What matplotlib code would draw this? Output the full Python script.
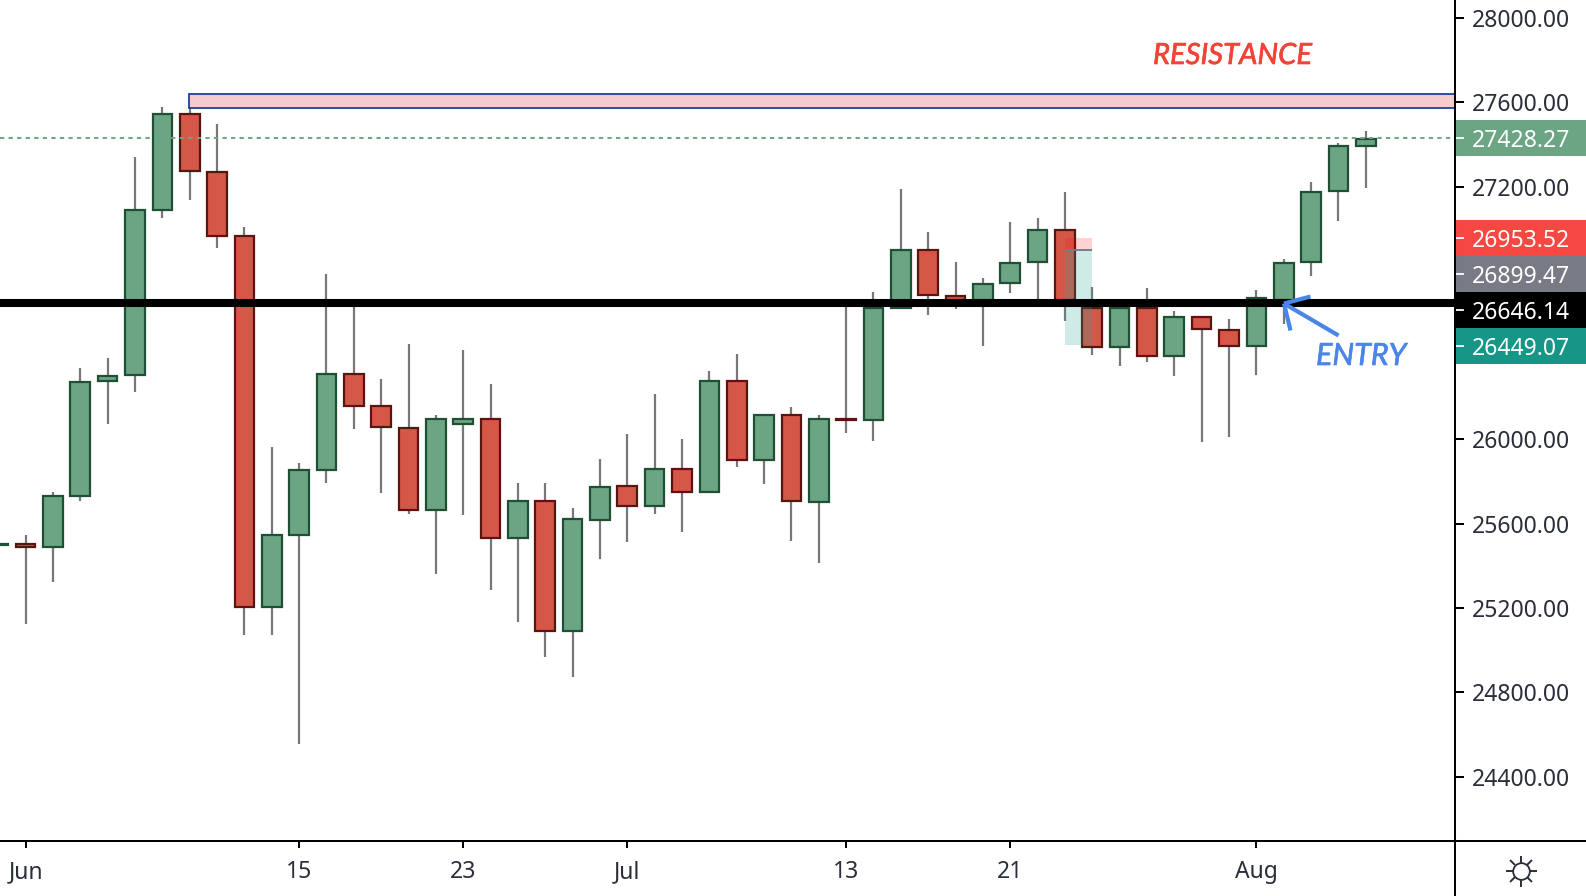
import numpy as np
import matplotlib
matplotlib.use("Agg")
import matplotlib.pyplot as plt
import matplotlib.patheffects as pe
from matplotlib.patches import Rectangle
from matplotlib.lines import Line2D

plt.rcParams['font.family'] = ['Noto Sans', 'DejaVu Sans']

opens = [25500, 25504, 25490, 25734, 26277, 26306, 27088, 27544, 27270, 26963, 25206, 25547, 25854, 26310, 26157, 26056,
         25667, 26075, 26099, 25533, 25710, 25091, 25619, 25778, 25686, 25859, 25749, 26277, 25902, 26114, 25701, 26099,
         26094, 26622, 26901, 26680, 26661, 26742, 26843, 26992, 26622, 26440, 26622, 26397, 26579, 26517, 26445, 26661,
         26843, 27179, 27390]
highs = [25504, 25547, 25749, 26339, 26387, 27342, 27578, 27582, 27496, 27006, 25965, 25888, 26786, 26637, 26286, 26454,
         26114, 26426, 26262, 25792, 25792, 25677, 25907, 26027, 26214, 26003, 26325, 26406, 26118, 26152, 26114, 26646,
         26699, 27189, 26982, 26843, 26766, 27030, 27050, 27174, 26723, 26637, 26718, 26608, 26579, 26570, 26709, 26858,
         27222, 27405, 27462]
lows = [25500, 25125, 25322, 25706, 26075, 26224, 27050, 27136, 26910, 25072, 25072, 24554, 25792, 26051, 25744, 25648,
        25360, 25643, 25288, 25134, 24966, 24875, 25432, 25514, 25648, 25562, 25749, 25869, 25787, 25518, 25413, 26032,
        25994, 26618, 26589, 26618, 26445, 26694, 26651, 26560, 26402, 26349, 26368, 26301, 25989, 26013, 26306, 26550,
        26776, 27035, 27194]
closes = [25504, 25490, 25734, 26272, 26301, 27088, 27544, 27275, 26963, 25206, 25547, 25854, 26310, 26157, 26061, 25667,
          26099, 26099, 25533, 25710, 25091, 25624, 25773, 25686, 25859, 25749, 26277, 25902, 26114, 25706, 26099, 26094,
          26622, 26901, 26685, 26661, 26738, 26838, 26992, 26661, 26440, 26622, 26397, 26579, 26522, 26445, 26670, 26838,
          27174, 27390, 27424]

y_ticks = [28000, 27600, 27200, 26800, 26400, 26000, 25600, 25200, 24800, 24400]
x_tick_idx = [0, 10, 16, 22, 30, 36, 45]
x_tick_labels = ['Jun', '15', '23', 'Jul', '13', '21', 'Aug']

last_price = 27428.27
level_price = 26646.14
rr_top, rr_entry, rr_bottom = 26953.52, 26899.47, 26449.07
zone_top, zone_bottom = 27637, 27571
zone_start = 5.97
rr_start, rr_end = 38, 39

price_labels = ['27428.27', '26953.52', '26899.47', '26646.14', '26449.07']
label_colors = ['#6ca583', '#f44840', '#787b86', '#000000', '#169686']
label_centers_px = [138, 238, 274, 310, 346]

W, H = 1586, 896
AX_R, AX_B = 1455, 841
fig = plt.figure(figsize=(W / 100, H / 100), dpi=100, facecolor='white')
ax = fig.add_axes([0, 1 - AX_B / H, AX_R / W, AX_B / H])
ax.set_xlim(-25.6 / 27.35, (AX_R - 25.6) / 27.35)
ax.set_ylim(24095, 28085)

def fx(px):
    return px / W
def fy(py):
    return 1 - py / H

idx = np.arange(len(opens)) - 1
o, h, l, c = map(np.array, (opens, highs, lows, closes))
up = c >= o
GREEN, GREEN_E = '#6ca583', '#1f5036'
RED, RED_E = '#d55748', '#5a1512'
ax.vlines(idx, l, h, color='#787878', lw=1.6, zorder=2)
ax.bar(idx[up], (c - o)[up], bottom=o[up], width=0.72, color=GREEN, edgecolor=GREEN_E, linewidth=1.6, zorder=3)
ax.bar(idx[~up], (o - c)[~up], bottom=c[~up], width=0.72, color=RED, edgecolor=RED_E, linewidth=1.6, zorder=3)

ax.add_patch(Rectangle((zone_start, zone_bottom), 60, zone_top - zone_bottom, facecolor='#f4cccd',
                       edgecolor='#1e3f9e', lw=1.3, zorder=4))
ax.axhline(last_price, color=GREEN, lw=1.4, dashes=(2.2, 2.2), zorder=4)

ax.add_patch(Rectangle((rr_start, rr_entry), rr_end - rr_start, rr_top - rr_entry, facecolor='#ff0000',
                       alpha=0.18, lw=0, zorder=4))
ax.add_patch(Rectangle((rr_start, rr_bottom), rr_end - rr_start, rr_entry - rr_bottom, facecolor='#26a69a',
                       alpha=0.22, lw=0, zorder=4))
ax.plot([rr_start, rr_end], [rr_entry, rr_entry], color='#787b86', lw=1.4, zorder=4.1, solid_capstyle='butt')
ax.axhline(level_price, color='black', lw=5.8, zorder=4.5)

TXT = '#2a2e39'
FS = 16.5
for s in ('top', 'left', 'right', 'bottom'):
    ax.spines[s].set_visible(False)
ax.yaxis.tick_right()
ax.set_yticks(y_ticks)
ax.set_yticklabels([f'{v:.2f}' for v in y_ticks])
ax.tick_params(axis='y', direction='out', length=6.5, width=1.45, color='black', pad=5.6,
               labelsize=FS, labelcolor=TXT)
for lab in ax.get_yticklabels():
    lab.set_va('center_baseline')
ax.set_xticks(x_tick_idx)
ax.set_xticklabels(x_tick_labels)
ax.tick_params(axis='x', direction='out', length=4.7, width=1.45, color='black', pad=9.2,
               labelsize=FS, labelcolor=TXT)

# price-scale labels
for txt, col, cy in zip(price_labels, label_colors, label_centers_px):
    fig.add_artist(Rectangle((fx(AX_R), fy(cy + 18)), fx(W - AX_R), 36 / H, transform=fig.transFigure,
                             facecolor=col, lw=0, zorder=5))
    fig.add_artist(Line2D([fx(AX_R), fx(AX_R + 8)], [fy(cy), fy(cy)], color='white', lw=1.3, zorder=6))
    fig.text(fx(1472), fy(cy), txt, color='white', fontsize=FS, va='center_baseline', ha='left', zorder=7)

# axis frame lines
fig.add_artist(Line2D([fx(AX_R), fx(AX_R)], [0, 1], color='black', lw=1.45, zorder=8))
fig.add_artist(Line2D([0, 1], [fy(AX_B), fy(AX_B)], color='black', lw=1.45, zorder=8))

# arrow + annotations
BLUE = '#4a86e8'
tip = (1284, 303.5)
for end in [(1338.5, 335.5), (1310.5, 296.5), (1290.5, 330.5)]:
    fig.add_artist(Line2D([fx(tip[0]), fx(end[0])], [fy(tip[1]), fy(end[1])], color=BLUE, lw=3,
                          solid_capstyle='butt', zorder=6))
t1 = fig.text(fx(1316), fy(356), 'ENTRY', color=BLUE, fontsize=22, style='italic', family='Lato',
              va='center', ha='left', zorder=6)
t2 = fig.text(fx(1153), fy(56), 'RESISTANCE', color='#f44336', fontsize=21, style='italic', family='Lato',
              va='center', ha='left', zorder=6)
t1.set_path_effects([pe.withStroke(linewidth=0.5, foreground=BLUE)])
t2.set_path_effects([pe.withStroke(linewidth=0.5, foreground='#f44336')])

# settings icon
cx, cy = 1521, 871
fig.add_artist(Line2D([fx(cx)], [fy(cy)], marker='o', ms=12, mfc='none', mec=TXT, mew=1.3, zorder=6))
for ang in np.arange(8) * np.pi / 4:
    r1, r2 = 9.5, 14.5
    fig.add_artist(Line2D([fx(cx + r1 * np.cos(ang)), fx(cx + r2 * np.cos(ang))],
                          [fy(cy + r1 * np.sin(ang)), fy(cy + r2 * np.sin(ang))], color=TXT, lw=1.4, zorder=6))

fig.savefig('out.png', dpi=100, facecolor='white')
